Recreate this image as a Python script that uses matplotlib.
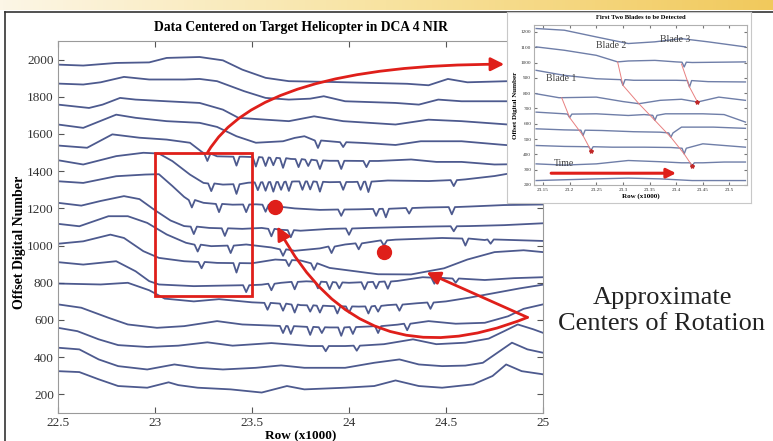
import numpy as np
import matplotlib.pyplot as plt
from matplotlib.patches import Rectangle, FancyArrowPatch
from matplotlib.lines import Line2D
from matplotlib.colors import LinearSegmentedColormap

plt.rcParams['font.family'] = ['Liberation Serif', 'DejaVu Serif']

# ---- main panel traces (row x1000, offset digital number) ----
# dips are (row, level beside the dip, level at the bottom of the dip)
t1_x = [22.5, 22.63, 22.8, 22.97, 23.06, 23.23, 23.35, 23.45, 23.57, 23.69, 23.9, 24.1, 24.3, 24.41, 24.51, 24.61, 24.82, 25.0]
t1_y = [1973, 1968, 1982, 1985, 2009, 2014, 1996, 1946, 1902, 1884, 1880, 1875, 1870, 1862, 1896, 1878, 1884, 1884]

t2_x = [22.5, 22.63, 22.72, 22.84, 22.97, 23.15, 23.23, 23.32, 23.46, 23.57, 23.69, 23.8, 23.87, 23.98, 24.24, 24.36, 24.46, 24.58, 24.82, 25.0]
t2_y = [1871, 1866, 1878, 1907, 1893, 1893, 1896, 1884, 1830, 1794, 1785, 1790, 1803, 1776, 1767, 1758, 1785, 1776, 1776, 1776]

t3_x = [22.5, 22.66, 22.73, 22.82, 22.9, 23.06, 23.23, 23.35, 23.43, 23.57, 23.69, 23.82, 23.97, 24.24, 24.41, 24.58, 24.82, 25.0]
t3_y = [1758, 1740, 1758, 1794, 1785, 1776, 1767, 1731, 1687, 1677, 1669, 1695, 1669, 1651, 1677, 1669, 1651, 1651]

t4_x = [22.5, 22.63, 22.8, 22.9, 23.06, 23.23, 23.32, 23.42, 23.52, 23.66, 23.72, 23.77, 23.9, 24.07, 24.24, 24.37, 24.58, 24.78, 25.0]
t4_y = [1651, 1633, 1704, 1687, 1669, 1660, 1638, 1588, 1553, 1561, 1579, 1588, 1561, 1552, 1541, 1561, 1561, 1543, 1525]
t4_dips = [(23.84, 1565, 1525), (23.97, 1556, 1530)]

t5_x = [22.5, 22.65, 22.78, 22.92, 23.06, 23.18, 23.24, 23.32, 23.45, 23.7, 23.9, 24.15, 24.32, 24.45, 24.58, 24.75, 25.0]
t5_y = [1538, 1526, 1598, 1580, 1570, 1553, 1505, 1480, 1478, 1466, 1456, 1455, 1463, 1450, 1450, 1436, 1440]
t5_dips = [(23.27, 1495, 1455), (23.42, 1478, 1430), (23.52, 1476, 1425), (23.57, 1474, 1428),
           (23.61, 1472, 1432), (23.66, 1470, 1418), (23.74, 1465, 1422), (23.79, 1462, 1428),
           (23.85, 1458, 1412), (23.96, 1456, 1412), (24.09, 1455, 1422)]

t6_x = [22.5, 22.63, 22.8, 22.94, 23.02, 23.09, 23.18, 23.25, 23.35, 23.48, 23.72, 23.9, 24.02, 24.2, 24.41, 24.6, 24.75, 24.85, 25.0]
t6_y = [1459, 1436, 1481, 1499, 1495, 1454, 1382, 1337, 1328, 1338, 1345, 1341, 1342, 1350, 1347, 1356, 1374, 1392, 1395]
t6_dips = [(23.29, 1334, 1293), (23.42, 1330, 1278), (23.53, 1340, 1298), (23.57, 1341, 1295),
           (23.61, 1342, 1290), (23.65, 1342, 1300), (23.69, 1344, 1294), (23.76, 1345, 1300),
           (23.8, 1345, 1302), (23.85, 1343, 1290), (23.97, 1342, 1300), (24.06, 1343, 1300),
           (24.1, 1344, 1288), (24.54, 1352, 1320)]

t7_x = [22.5, 22.63, 22.8, 22.95, 23.02, 23.09, 23.15, 23.25, 23.4, 23.52, 23.62, 23.72, 23.85, 24.05, 24.25, 24.4, 24.62, 24.8, 25.0]
t7_y = [1346, 1337, 1373, 1382, 1384, 1320, 1262, 1230, 1220, 1222, 1212, 1200, 1192, 1195, 1200, 1205, 1210, 1218, 1221]
t7_dips = [(23.19, 1245, 1205), (23.33, 1224, 1180), (23.47, 1221, 1180), (23.57, 1220, 1182),
           (23.96, 1194, 1160), (24.14, 1197, 1160), (24.19, 1198, 1152), (24.31, 1202, 1172),
           (24.53, 1207, 1168)]

t8_x = [22.5, 22.62, 22.72, 22.84, 22.92, 23.0, 23.08, 23.15, 23.28, 23.45, 23.55, 23.65, 23.75, 23.9, 24.1, 24.3, 24.45, 24.62, 24.8, 25.0]
t8_y = [1230, 1215, 1240, 1266, 1250, 1190, 1135, 1105, 1095, 1090, 1095, 1085, 1080, 1090, 1095, 1100, 1103, 1105, 1110, 1120]
t8_dips = [(23.2, 1102, 1062), (23.36, 1093, 1052), (23.6, 1090, 1050), (23.7, 1083, 1045),
           (24.0, 1092, 1058), (24.54, 1104, 1077)]

t9_x = [22.5, 22.61, 22.76, 22.86, 22.96, 23.06, 23.16, 23.29, 23.47, 23.6, 23.72, 23.85, 23.98, 24.24, 24.48, 24.7, 25.0]
t9_y = [1117, 1104, 1158, 1158, 1122, 1060, 1015, 997, 1006, 990, 972, 985, 1006, 1032, 1041, 1030, 1025]
t9_dips = [(23.22, 1005, 968), (23.39, 1000, 960), (23.66, 980, 945), (23.91, 995, 960),
           (24.05, 1012, 980), (24.18, 1028, 1000), (24.6, 1038, 1000), (24.73, 1033, 1010)]

t10_x = [22.5, 22.63, 22.77, 22.84, 22.94, 23.02, 23.15, 23.32, 23.5, 23.62, 23.75, 23.9, 24.15, 24.32, 24.49, 24.61, 24.75, 24.9, 25.0]
t10_y = [1010, 1023, 1059, 1041, 970, 934, 916, 907, 905, 925, 920, 880, 846, 845, 878, 925, 965, 975, 965]
t10_dips = [(23.24, 912, 878), (23.42, 906, 855), (23.69, 922, 890), (23.82, 905, 870)]

t11_x = [22.5, 22.63, 22.8, 22.9, 22.97, 23.02, 23.2, 23.35, 23.55, 23.65, 23.78, 24.0, 24.25, 24.38, 24.5, 24.7, 24.85, 25.0]
t11_y = [911, 898, 916, 862, 809, 791, 782, 785, 790, 800, 808, 800, 810, 830, 825, 815, 825, 830]
t11_dips = [(23.47, 787, 750), (23.6, 795, 760), (23.72, 805, 765), (23.84, 806, 770), (23.9, 804, 765),
            (23.95, 802, 770), (24.08, 803, 765), (24.14, 805, 770), (24.2, 807, 768), (24.44, 828, 795),
            (24.55, 823, 800)]

t12_x = [22.5, 22.72, 22.86, 22.97, 23.05, 23.2, 23.33, 23.5, 23.62, 23.75, 23.9, 24.05, 24.2, 24.35, 24.5, 24.62, 24.75, 24.88, 25.0]
t12_y = [796, 791, 800, 760, 715, 700, 712, 695, 690, 680, 675, 672, 680, 690, 700, 720, 745, 770, 790]
t12_dips = [(23.58, 692, 655), (23.66, 688, 650), (23.72, 683, 640), (23.8, 679, 645), (23.85, 677, 640),
            (23.94, 674, 635), (24.0, 673, 640), (24.1, 673, 635), (24.15, 676, 645), (24.26, 683, 650),
            (24.42, 694, 660)]

t13_x = [22.5, 22.62, 22.76, 22.86, 23.01, 23.15, 23.32, 23.45, 23.6, 23.75, 23.9, 24.1, 24.25, 24.41, 24.55, 24.7, 24.82, 24.9, 25.0]
t13_y = [684, 666, 612, 576, 558, 567, 594, 576, 570, 565, 560, 565, 575, 594, 580, 585, 620, 660, 684]
t13_dips = [(23.66, 568, 530), (23.7, 567, 525), (23.8, 563, 520), (23.86, 561, 530), (23.96, 560, 515),
            (24.02, 562, 525), (24.15, 567, 530), (24.3, 580, 545)]

t14_x = [22.5, 22.6, 22.71, 22.81, 22.96, 23.12, 23.27, 23.4, 23.6, 23.8, 23.98, 24.18, 24.33, 24.45, 24.6, 24.72, 24.8, 24.87, 24.95, 25.0]
t14_y = [558, 540, 496, 465, 455, 462, 480, 462, 476, 460, 460, 470, 496, 470, 478, 500, 540, 576, 550, 531]
t14_dips = [(23.88, 460, 432), (24.04, 462, 435)]

t15_x = [22.5, 22.61, 22.71, 22.81, 22.96, 23.1, 23.22, 23.35, 23.52, 23.65, 23.77, 23.98, 24.13, 24.26, 24.36, 24.48, 24.6, 24.69, 24.79, 24.84, 24.92, 25.0]
t15_y = [451, 442, 388, 352, 334, 361, 343, 334, 343, 356, 343, 343, 370, 388, 361, 352, 355, 370, 442, 478, 442, 424]

t16_x = [22.5, 22.61, 22.71, 22.81, 22.96, 23.07, 23.12, 23.22, 23.39, 23.55, 23.68, 23.77, 23.98, 24.13, 24.24, 24.36, 24.48, 24.64, 24.74, 24.81, 24.89, 25.0]
t16_y = [325, 320, 281, 245, 236, 265, 250, 236, 227, 210, 245, 227, 236, 245, 275, 245, 236, 254, 299, 361, 325, 308]

main_traces = [
    (t1_x, t1_y, []), (t2_x, t2_y, []), (t3_x, t3_y, []), (t4_x, t4_y, t4_dips),
    (t5_x, t5_y, t5_dips), (t6_x, t6_y, t6_dips), (t7_x, t7_y, t7_dips), (t8_x, t8_y, t8_dips),
    (t9_x, t9_y, t9_dips), (t10_x, t10_y, t10_dips), (t11_x, t11_y, t11_dips), (t12_x, t12_y, t12_dips),
    (t13_x, t13_y, t13_dips), (t14_x, t14_y, t14_dips), (t15_x, t15_y, []), (t16_x, t16_y, []),
]

x_ticks = [22.5, 23, 23.5, 24, 24.5, 25]
x_tick_labels = ['22.5', '23', '23.5', '24', '24.5', '25']
y_ticks = [200, 400, 600, 800, 1000, 1200, 1400, 1600, 1800, 2000]

centers = [(23.62, 1208), (24.18, 966)]

# ---- inset: first two blades ----
i1_x = [23.137, 23.19, 23.25, 23.31, 23.36, 23.41, 23.46, 23.53]
i1_y = [1222, 1211, 1167, 1124, 1135, 1156, 1135, 1102]
i2_x = [23.137, 23.19, 23.25, 23.29, 23.31, 23.36, 23.40, 23.43, 23.53]
i2_y = [1102, 1080, 1047, 1004, 1010, 1014, 1004, 1000, 1004]
i2_dips = [(23.415, 1002, 971)]
i3_x = [23.137, 23.19, 23.25, 23.28, 23.32, 23.36, 23.40, 23.46, 23.53]
i3_y = [949, 916, 894, 890, 884, 884, 884, 875, 873]
i3_dips = [(23.30, 888, 851), (23.425, 882, 840)]
i4_x = [23.137, 23.18, 23.25, 23.30, 23.33, 23.37, 23.41, 23.44, 23.48, 23.53]
i4_y = [796, 770, 774, 745, 731, 753, 760, 742, 774, 753]
i5_x = [23.137, 23.19, 23.25, 23.31, 23.34, 23.38, 23.45, 23.49, 23.53]
i5_y = [676, 665, 665, 654, 660, 665, 665, 660, 611]
i5_dips = [(23.20, 663, 640), (23.36, 655, 622)]
i6_x = [23.137, 23.19, 23.26, 23.32, 23.37, 23.41, 23.47, 23.53]
i6_y = [567, 560, 556, 548, 545, 578, 578, 570]
i6_dips = [(23.225, 558, 523), (23.39, 540, 512)]
i7_x = [23.137, 23.19, 23.28, 23.34, 23.39, 23.45, 23.53]
i7_y = [458, 452, 447, 447, 445, 469, 447]
i7_dips = [(23.24, 450, 425), (23.415, 440, 403)]
i8_x = [23.137, 23.19, 23.25, 23.31, 23.37, 23.41, 23.45, 23.49, 23.53]
i8_y = [338, 330, 338, 360, 352, 345, 345, 350, 350]
i8_dips = [(23.43, 345, 325)]
i9_x = [23.137, 23.25, 23.31, 23.37, 23.43, 23.53]
i9_y = [229, 240, 245, 240, 229, 229]

inset_traces = [
    (i1_x, i1_y, []), (i2_x, i2_y, i2_dips), (i3_x, i3_y, i3_dips), (i4_x, i4_y, []),
    (i5_x, i5_y, i5_dips), (i6_x, i6_y, i6_dips), (i7_x, i7_y, i7_dips), (i8_x, i8_y, i8_dips),
    (i9_x, i9_y, []),
]

blade1_x = [23.185, 23.20, 23.225, 23.24]
blade1_y = [770, 640, 523, 425]
blade2_x = [23.29, 23.30, 23.33, 23.36, 23.39, 23.415, 23.43]
blade2_y = [1004, 851, 731, 622, 512, 403, 325]
blade3_x = [23.41, 23.425, 23.44]
blade3_y = [990, 840, 742]

inset_xticks = [23.15, 23.2, 23.25, 23.3, 23.35, 23.4, 23.45, 23.5]
inset_xticklabels = ['23.15', '23.2', '23.25', '23.3', '23.35', '23.4', '23.45', '23.5']
inset_yticks = [200, 300, 400, 500, 600, 700, 800, 900, 1000, 1100, 1200]

RED = '#df1f1a'
TRACE = '#3a4882'


def with_dips(xs, ys, dips, w):
    pts = list(zip(xs, ys))
    for x, top, bottom in dips:
        pts += [(x - w, top), (x, bottom), (x + w, top)]
    pts.sort()
    return [p[0] for p in pts], [p[1] for p in pts]


fig = plt.figure(figsize=(7.73, 4.41), dpi=100)

# gold banner on top and panel frame
banner = fig.add_axes([0, 1 - 10 / 441, 1, 10 / 441])
banner.imshow(np.linspace(0, 1, 256).reshape(1, -1), aspect='auto',
              cmap=LinearSegmentedColormap.from_list('gold', ['#fcf6e6', '#f8e3a0', '#f1c95c']))
banner.axis('off')
fig.add_artist(Line2D([5 / 773, 5 / 773], [0, 1 - 12 / 441], transform=fig.transFigure, color='#333333', lw=1.2))
fig.add_artist(Line2D([5 / 773, 1], [1 - 12 / 441, 1 - 12 / 441], transform=fig.transFigure, color='#333333', lw=1.2))

ax = fig.add_axes([58 / 773, 28 / 441, 485 / 773, 372 / 441])
for xs, ys, dips in main_traces:
    lx, ly = with_dips(xs, ys, dips, 0.016)
    ax.plot(lx, ly, color=TRACE, lw=1.3, alpha=0.9)

ax.set_xlim(22.5, 25)
ax.set_ylim(100, 2100)
ax.set_xticks(x_ticks)
ax.set_xticklabels(x_tick_labels)
ax.set_yticks(y_ticks)
ax.tick_params(direction='in', top=True, right=True, length=4, labelsize=9.5, colors='#555555',
               labelcolor='#333333', pad=3)
for s in ax.spines.values():
    s.set_color('#9a9a9a')
ax.set_title('Data Centered on Target Helicopter in DCA 4 NIR', fontsize=9.8, fontweight='bold', pad=7)
ax.set_xlabel('Row (x1000)', fontsize=9.5, fontweight='bold', va='center')
ax.xaxis.set_label_coords(0.5, -0.062)
ax.set_ylabel('Offset Digital Number', fontsize=10, fontweight='bold')
ax.yaxis.set_label_coords(-0.067, 0.46)

# annotations
ax.add_patch(Rectangle((23.0, 730), 0.5, 770, fill=False, ec=RED, lw=2, zorder=4))
for cx, cy in centers:
    ax.plot(cx, cy, 'o', ms=10, color=RED, zorder=5)
ax.add_patch(FancyArrowPatch((23.27, 1499), (24.80, 1975), connectionstyle='angle3,angleA=60,angleB=0',
                             arrowstyle='-|>', mutation_scale=20, lw=2, color=RED, zorder=5, clip_on=False,
                             shrinkA=0, shrinkB=0))
ax.add_patch(FancyArrowPatch((24.92, 614), (24.40, 856), arrowstyle='-|>', mutation_scale=20,
                             lw=2, color=RED, zorder=5, shrinkA=0, shrinkB=0))
ax.add_patch(FancyArrowPatch((24.92, 614), (23.63, 1103), connectionstyle='arc3,rad=-0.45',
                             arrowstyle='-|>', mutation_scale=20, lw=2, color=RED, zorder=5, shrinkA=0, shrinkB=0))

fig.text(662 / 773, 1 - 311 / 441, 'Approximate\nCenters of Rotation', ha='center', va='center',
         fontsize=19, linespacing=1.25, color='#222222')

# inset panel
panel = fig.add_axes([507 / 773, 1 - 203 / 441, 244 / 773, 191 / 441], zorder=3)
panel.set_xticks([])
panel.set_yticks([])
for s in panel.spines.values():
    s.set_color('#c8c8c8')

ins = fig.add_axes([534 / 773, 1 - 185 / 441, 213 / 773, 160 / 441], zorder=4)
for xs, ys, dips in inset_traces:
    lx, ly = with_dips(xs, ys, dips, 0.004)
    ins.plot(lx, ly, color='#6f7ea8', lw=1.0)
for bx, by in [(blade1_x, blade1_y), (blade2_x, blade2_y), (blade3_x, blade3_y)]:
    ins.plot(bx, by, color='#e88080', lw=0.7)
    ins.plot(bx[-1], by[-1], '*', ms=3, color='#c02828')
ins.set_xlim(23.133, 23.533)
ins.set_ylim(200, 1245)
ins.set_xticks(inset_xticks)
ins.set_xticklabels(inset_xticklabels)
ins.set_yticks(inset_yticks)
ins.tick_params(direction='in', top=True, right=True, length=2, labelsize=3.8, pad=2,
                colors='#777777', labelcolor='#333333')
for s in ins.spines.values():
    s.set_color('#b0b0b0')
ins.set_title('First Two Blades to be Detected', fontsize=4.8, fontweight='bold', pad=4)
ins.set_xlabel('Row (x1000)', fontsize=5, fontweight='bold', labelpad=1)
ins.set_ylabel('Offset Digital Number', fontsize=5, fontweight='bold', labelpad=2)
ins.text(23.155, 894, 'Blade 1', fontsize=7, va='center', color='#404040')
ins.text(23.25, 1113, 'Blade 2', fontsize=7, va='center', color='#404040')
ins.text(23.37, 1150, 'Blade 3', fontsize=7, va='center', color='#404040')
ins.text(23.17, 340, 'Time', fontsize=7, va='center', color='#404040')
ins.annotate('', xy=(23.405, 277), xytext=(23.16, 277),
             arrowprops=dict(arrowstyle='-|>', lw=2.2, mutation_scale=14, color=RED))

fig.savefig('out.png', dpi=100)
